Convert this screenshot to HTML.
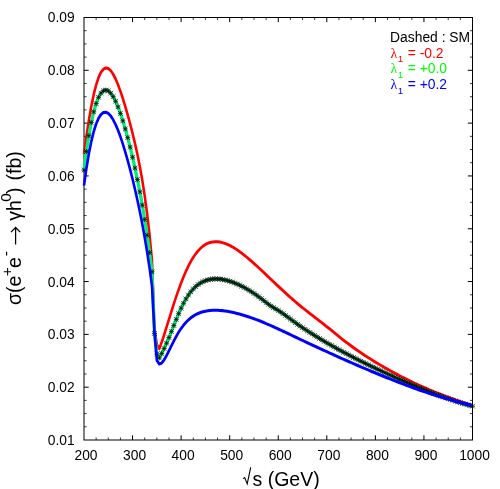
<!DOCTYPE html>
<html><head><meta charset="utf-8"><title>plot</title>
<style>
html,body{margin:0;padding:0;background:#fff;}
svg{display:block;font-family:"Liberation Sans",sans-serif;}
svg{will-change:transform;}
.ser{font-family:"Liberation Serif",serif;}
</style></head><body>
<svg width="500" height="489" viewBox="0 0 500 489">
<rect width="500" height="489" fill="#fff"/>
<g fill="none" stroke="#000" stroke-width="1">
<path d="M132.56 440.0v-4.7M132.56 17.5v4.7M181.12 440.0v-4.7M181.12 17.5v4.7M229.69 440.0v-4.7M229.69 17.5v4.7M278.25 440.0v-4.7M278.25 17.5v4.7M326.81 440.0v-4.7M326.81 17.5v4.7M375.38 440.0v-4.7M375.38 17.5v4.7M423.94 440.0v-4.7M423.94 17.5v4.7M84.0 387.19h4.7M472.5 387.19h-4.7M84.0 334.38h4.7M472.5 334.38h-4.7M84.0 281.56h4.7M472.5 281.56h-4.7M84.0 228.75h4.7M472.5 228.75h-4.7M84.0 175.94h4.7M472.5 175.94h-4.7M84.0 123.12h4.7M472.5 123.12h-4.7M84.0 70.31h4.7M472.5 70.31h-4.7"/><path d="M96.14 440.0v-2.6M96.14 17.5v2.6M108.28 440.0v-2.6M108.28 17.5v2.6M120.42 440.0v-2.6M120.42 17.5v2.6M144.70 440.0v-2.6M144.70 17.5v2.6M156.84 440.0v-2.6M156.84 17.5v2.6M168.98 440.0v-2.6M168.98 17.5v2.6M193.27 440.0v-2.6M193.27 17.5v2.6M205.41 440.0v-2.6M205.41 17.5v2.6M217.55 440.0v-2.6M217.55 17.5v2.6M241.83 440.0v-2.6M241.83 17.5v2.6M253.97 440.0v-2.6M253.97 17.5v2.6M266.11 440.0v-2.6M266.11 17.5v2.6M290.39 440.0v-2.6M290.39 17.5v2.6M302.53 440.0v-2.6M302.53 17.5v2.6M314.67 440.0v-2.6M314.67 17.5v2.6M338.95 440.0v-2.6M338.95 17.5v2.6M351.09 440.0v-2.6M351.09 17.5v2.6M363.23 440.0v-2.6M363.23 17.5v2.6M387.52 440.0v-2.6M387.52 17.5v2.6M399.66 440.0v-2.6M399.66 17.5v2.6M411.80 440.0v-2.6M411.80 17.5v2.6M436.08 440.0v-2.6M436.08 17.5v2.6M448.22 440.0v-2.6M448.22 17.5v2.6M460.36 440.0v-2.6M460.36 17.5v2.6M84.0 426.80h2.6M472.5 426.80h-2.6M84.0 413.59h2.6M472.5 413.59h-2.6M84.0 400.39h2.6M472.5 400.39h-2.6M84.0 373.98h2.6M472.5 373.98h-2.6M84.0 360.78h2.6M472.5 360.78h-2.6M84.0 347.58h2.6M472.5 347.58h-2.6M84.0 321.17h2.6M472.5 321.17h-2.6M84.0 307.97h2.6M472.5 307.97h-2.6M84.0 294.77h2.6M472.5 294.77h-2.6M84.0 268.36h2.6M472.5 268.36h-2.6M84.0 255.16h2.6M472.5 255.16h-2.6M84.0 241.95h2.6M472.5 241.95h-2.6M84.0 215.55h2.6M472.5 215.55h-2.6M84.0 202.34h2.6M472.5 202.34h-2.6M84.0 189.14h2.6M472.5 189.14h-2.6M84.0 162.73h2.6M472.5 162.73h-2.6M84.0 149.53h2.6M472.5 149.53h-2.6M84.0 136.33h2.6M472.5 136.33h-2.6M84.0 109.92h2.6M472.5 109.92h-2.6M84.0 96.72h2.6M472.5 96.72h-2.6M84.0 83.52h2.6M472.5 83.52h-2.6M84.0 57.11h2.6M472.5 57.11h-2.6M84.0 43.91h2.6M472.5 43.91h-2.6M84.0 30.70h2.6M472.5 30.70h-2.6" stroke-width="0.75"/>
<rect x="84.0" y="17.5" width="388.5" height="422.5"/>
</g>
<clipPath id="cp"><rect x="0" y="0" width="472" height="489"/></clipPath>
<g fill="none" stroke-linejoin="round" stroke-linecap="butt">
<g clip-path="url(#cp)"><path transform="scale(0.85 1)" d="M98.82 153.81 L101.68 136.14 L104.54 120.23 L107.39 106.32 L110.25 94.53 L113.11 84.94 L115.96 77.56 L118.82 72.34 L121.68 69.17 L124.53 67.94 L127.39 68.47 L130.25 70.60 L133.10 74.12 L135.96 78.86 L138.82 84.61 L141.67 91.22 L144.53 98.54 L147.39 106.46 L150.24 114.90 L153.10 123.84 L155.96 133.34 L158.81 143.49 L161.67 154.48 L164.53 166.59 L167.38 180.17 L170.24 195.70 L173.10 213.77 L175.95 235.06 L178.81 260.42 L181.67 328.00 L184.52 344.50 L187.38 348.67 L190.24 342.23 L193.09 334.86 L195.95 327.08 L198.81 319.20 L201.66 311.42 L204.52 303.84 L207.38 296.53 L210.23 289.54 L213.09 282.95 L215.94 276.82 L218.80 271.18 L221.66 266.07 L224.51 261.48 L227.37 257.42 L230.23 253.86 L233.08 250.81 L235.94 248.25 L238.80 246.14 L241.65 244.49 L244.51 243.26 L247.37 242.40 L250.22 241.89 L253.08 241.68 L255.94 241.75 L258.79 242.08 L261.65 242.63 L264.51 243.39 L267.36 244.34 L270.22 245.47 L273.08 246.76 L275.93 248.19 L278.79 249.76 L281.65 251.44 L284.50 253.25 L287.36 255.15 L290.22 257.13 L293.07 259.18 L295.93 261.29 L298.79 263.44 L301.64 265.64 L304.50 267.86 L307.36 270.13 L310.21 272.43 L313.07 274.75 L315.93 277.07 L318.78 279.38 L321.64 281.69 L324.50 283.99 L327.35 286.27 L330.21 288.53 L333.07 290.77 L335.92 292.99 L338.78 295.19 L341.64 297.35 L344.49 299.49 L347.35 301.60 L350.21 303.67 L353.06 305.72 L355.92 307.69 L358.78 309.63 L361.63 311.56 L364.49 313.46 L367.35 315.35 L370.20 317.23 L373.06 319.10 L375.92 320.97 L378.77 322.85 L381.63 324.75 L384.49 326.66 L387.34 328.59 L390.20 330.56 L393.06 332.55 L395.91 334.55 L398.77 336.53 L401.62 338.48 L404.48 340.39 L407.34 342.26 L410.19 344.09 L413.05 345.88 L415.91 347.64 L418.76 349.36 L421.62 351.05 L424.48 352.71 L427.33 354.34 L430.19 355.94 L433.05 357.51 L435.90 359.05 L438.76 360.56 L441.62 362.06 L444.47 363.52 L447.33 364.97 L450.19 366.39 L453.04 367.78 L455.90 369.16 L458.76 370.52 L461.61 371.86 L464.47 373.17 L467.33 374.47 L470.18 375.75 L473.04 377.01 L475.90 378.25 L478.75 379.47 L481.61 380.68 L484.47 381.86 L487.32 383.02 L490.18 384.17 L493.04 385.30 L495.89 386.40 L498.75 387.47 L501.61 388.52 L504.46 389.56 L507.32 390.58 L510.18 391.58 L513.03 392.56 L515.89 393.53 L518.75 394.48 L521.60 395.41 L524.46 396.33 L527.32 397.23 L530.17 398.12 L533.03 399.01 L535.89 399.89 L538.74 400.75 L541.60 401.59 L544.46 402.42 L547.31 403.24 L550.17 404.03 L553.03 404.82 L555.88 405.59" stroke="#ff0000" stroke-width="3.0"/></g>
<g clip-path="url(#cp)"><path d="M84.00 170.15 L86.43 151.49 L88.86 135.67 L91.28 122.51 L93.71 111.84 L96.14 103.50 L98.57 97.31 L101.00 93.11 L103.42 90.74 L105.85 90.05 L108.28 90.90 L110.71 93.14 L113.14 96.63 L115.57 101.24 L117.99 106.87 L120.42 113.41 L122.85 120.77 L125.28 128.88 L127.71 137.67 L130.13 147.13 L132.56 157.25 L134.99 168.04 L137.42 179.55 L139.85 191.88 L142.28 205.16 L144.70 219.54 L147.13 235.25 L149.56 252.56 L151.99 271.78 L154.42 333.50 L156.84 354.00 L159.27 357.96 L161.70 353.46 L164.13 348.52 L166.56 343.19 L168.98 337.53 L171.41 331.59 L173.84 325.47 L176.27 319.41 L178.70 313.61 L181.12 308.22 L183.55 303.29 L185.98 298.89 L188.41 295.04 L190.84 291.74 L193.27 288.94 L195.69 286.57 L198.12 284.60 L200.55 282.98 L202.98 281.68 L205.41 280.65 L207.83 279.89 L210.26 279.35 L212.69 279.02 L215.12 278.88 L217.55 278.92 L219.97 279.11 L222.40 279.45 L224.83 279.92 L227.26 280.52 L229.69 281.22 L232.12 282.04 L234.54 282.95 L236.97 283.96 L239.40 285.06 L241.83 286.25 L244.26 287.53 L246.68 288.89 L249.11 290.34 L251.54 291.86 L253.97 293.45 L256.40 295.11 L258.82 296.85 L261.25 298.67 L263.68 300.57 L266.11 302.49 L268.54 304.32 L270.97 306.01 L273.39 307.54 L275.82 308.99 L278.25 310.46 L280.68 312.03 L283.11 313.70 L285.53 315.45 L287.96 317.24 L290.39 319.05 L292.82 320.83 L295.25 322.60 L297.67 324.33 L300.10 326.04 L302.53 327.67 L304.96 329.29 L307.39 330.87 L309.82 332.44 L312.24 333.98 L314.67 335.51 L317.10 337.01 L319.53 338.49 L321.96 339.95 L324.38 341.40 L326.81 342.82 L329.24 344.23 L331.67 345.62 L334.10 346.99 L336.52 348.35 L338.95 349.69 L341.38 351.02 L343.81 352.33 L346.24 353.63 L348.67 354.91 L351.09 356.18 L353.52 357.44 L355.95 358.69 L358.38 359.92 L360.81 361.14 L363.23 362.35 L365.66 363.54 L368.09 364.73 L370.52 365.91 L372.95 367.07 L375.38 368.23 L377.80 369.38 L380.23 370.52 L382.66 371.65 L385.09 372.77 L387.52 373.89 L389.94 374.99 L392.37 376.09 L394.80 377.18 L397.23 378.26 L399.66 379.34 L402.08 380.41 L404.51 381.47 L406.94 382.53 L409.37 383.58 L411.80 384.62 L414.22 385.66 L416.65 386.70 L419.08 387.72 L421.51 388.72 L423.94 389.69 L426.37 390.65 L428.79 391.60 L431.22 392.54 L433.65 393.47 L436.08 394.38 L438.51 395.28 L440.93 396.16 L443.36 397.03 L445.79 397.88 L448.22 398.70 L450.65 399.53 L453.07 400.36 L455.50 401.18 L457.93 401.97 L460.36 402.73 L462.79 403.48 L465.22 404.19 L467.64 404.89 L470.07 405.55 L472.50 406.19" stroke="#00ee76" stroke-width="3.3"/></g>
<path d="M81.50 170.15H86.50M84.00 167.65V172.65M81.70 167.85L86.30 172.45M81.70 172.45L86.30 167.85M83.93 151.49H88.93M86.43 148.99V153.99M84.13 149.19L88.73 153.79M84.13 153.79L88.73 149.19M86.36 135.67H91.36M88.86 133.17V138.17M86.56 133.37L91.16 137.97M86.56 137.97L91.16 133.37M88.78 122.51H93.78M91.28 120.01V125.01M88.98 120.21L93.58 124.81M88.98 124.81L93.58 120.21M91.21 111.84H96.21M93.71 109.34V114.34M91.41 109.54L96.01 114.14M91.41 114.14L96.01 109.54M93.64 103.50H98.64M96.14 101.00V106.00M93.84 101.20L98.44 105.80M93.84 105.80L98.44 101.20M96.07 97.31H101.07M98.57 94.81V99.81M96.27 95.01L100.87 99.61M96.27 99.61L100.87 95.01M98.50 93.11H103.50M101.00 90.61V95.61M98.70 90.81L103.30 95.41M98.70 95.41L103.30 90.81M100.92 90.74H105.92M103.42 88.24V93.24M101.12 88.44L105.72 93.04M101.12 93.04L105.72 88.44M103.35 90.05H108.35M105.85 87.55V92.55M103.55 87.75L108.15 92.35M103.55 92.35L108.15 87.75M105.78 90.90H110.78M108.28 88.40V93.40M105.98 88.60L110.58 93.20M105.98 93.20L110.58 88.60M108.21 93.14H113.21M110.71 90.64V95.64M108.41 90.84L113.01 95.44M108.41 95.44L113.01 90.84M110.64 96.63H115.64M113.14 94.13V99.13M110.84 94.33L115.44 98.93M110.84 98.93L115.44 94.33M113.07 101.24H118.07M115.57 98.74V103.74M113.27 98.94L117.87 103.54M113.27 103.54L117.87 98.94M115.49 106.87H120.49M117.99 104.37V109.37M115.69 104.57L120.29 109.17M115.69 109.17L120.29 104.57M117.92 113.41H122.92M120.42 110.91V115.91M118.12 111.11L122.72 115.71M118.12 115.71L122.72 111.11M120.35 120.77H125.35M122.85 118.27V123.27M120.55 118.47L125.15 123.07M120.55 123.07L125.15 118.47M122.78 128.88H127.78M125.28 126.38V131.38M122.98 126.58L127.58 131.18M122.98 131.18L127.58 126.58M125.21 137.67H130.21M127.71 135.17V140.17M125.41 135.37L130.01 139.97M125.41 139.97L130.01 135.37M127.63 147.13H132.63M130.13 144.63V149.63M127.83 144.83L132.43 149.43M127.83 149.43L132.43 144.83M130.06 157.25H135.06M132.56 154.75V159.75M130.26 154.95L134.86 159.55M130.26 159.55L134.86 154.95M132.49 168.04H137.49M134.99 165.54V170.54M132.69 165.74L137.29 170.34M132.69 170.34L137.29 165.74M134.92 179.55H139.92M137.42 177.05V182.05M135.12 177.25L139.72 181.85M135.12 181.85L139.72 177.25M137.35 191.88H142.35M139.85 189.38V194.38M137.55 189.58L142.15 194.18M137.55 194.18L142.15 189.58M139.78 205.16H144.78M142.28 202.66V207.66M139.97 202.86L144.58 207.46M139.97 207.46L144.58 202.86M142.20 219.54H147.20M144.70 217.04V222.04M142.40 217.24L147.00 221.84M142.40 221.84L147.00 217.24M144.63 235.25H149.63M147.13 232.75V237.75M144.83 232.95L149.43 237.55M144.83 237.55L149.43 232.95M147.06 252.56H152.06M149.56 250.06V255.06M147.26 250.26L151.86 254.86M147.26 254.86L151.86 250.26M149.49 271.78H154.49M151.99 269.28V274.28M149.69 269.48L154.29 274.08M149.69 274.08L154.29 269.48M151.92 333.50H156.92M154.42 331.00V336.00M152.12 331.20L156.72 335.80M152.12 335.80L156.72 331.20M154.34 354.00H159.34M156.84 351.50V356.50M154.54 351.70L159.14 356.30M154.54 356.30L159.14 351.70M156.77 357.96H161.77M159.27 355.46V360.46M156.97 355.66L161.57 360.26M156.97 360.26L161.57 355.66M159.20 353.46H164.20M161.70 350.96V355.96M159.40 351.16L164.00 355.76M159.40 355.76L164.00 351.16M161.63 348.52H166.63M164.13 346.02V351.02M161.83 346.22L166.43 350.82M161.83 350.82L166.43 346.22M164.06 343.19H169.06M166.56 340.69V345.69M164.26 340.89L168.86 345.49M164.26 345.49L168.86 340.89M166.48 337.53H171.48M168.98 335.03V340.03M166.68 335.23L171.28 339.83M166.68 339.83L171.28 335.23M168.91 331.59H173.91M171.41 329.09V334.09M169.11 329.29L173.71 333.89M169.11 333.89L173.71 329.29M171.34 325.47H176.34M173.84 322.97V327.97M171.54 323.17L176.14 327.77M171.54 327.77L176.14 323.17M173.77 319.41H178.77M176.27 316.91V321.91M173.97 317.11L178.57 321.71M173.97 321.71L178.57 317.11M176.20 313.61H181.20M178.70 311.11V316.11M176.40 311.31L181.00 315.91M176.40 315.91L181.00 311.31M178.62 308.22H183.62M181.12 305.72V310.72M178.82 305.92L183.43 310.52M178.82 310.52L183.43 305.92M181.05 303.29H186.05M183.55 300.79V305.79M181.25 300.99L185.85 305.59M181.25 305.59L185.85 300.99M183.48 298.89H188.48M185.98 296.39V301.39M183.68 296.59L188.28 301.19M183.68 301.19L188.28 296.59M185.91 295.04H190.91M188.41 292.54V297.54M186.11 292.74L190.71 297.34M186.11 297.34L190.71 292.74M188.34 291.74H193.34M190.84 289.24V294.24M188.54 289.44L193.14 294.04M188.54 294.04L193.14 289.44M190.77 288.94H195.77M193.27 286.44V291.44M190.97 286.64L195.57 291.24M190.97 291.24L195.57 286.64M193.19 286.57H198.19M195.69 284.07V289.07M193.39 284.27L197.99 288.87M193.39 288.87L197.99 284.27M195.62 284.60H200.62M198.12 282.10V287.10M195.82 282.30L200.42 286.90M195.82 286.90L200.42 282.30M198.05 282.98H203.05M200.55 280.48V285.48M198.25 280.68L202.85 285.28M198.25 285.28L202.85 280.68M200.48 281.68H205.48M202.98 279.18V284.18M200.68 279.38L205.28 283.98M200.68 283.98L205.28 279.38M202.91 280.65H207.91M205.41 278.15V283.15M203.11 278.35L207.71 282.95M203.11 282.95L207.71 278.35M205.33 279.89H210.33M207.83 277.39V282.39M205.53 277.59L210.13 282.19M205.53 282.19L210.13 277.59M207.76 279.35H212.76M210.26 276.85V281.85M207.96 277.05L212.56 281.65M207.96 281.65L212.56 277.05M210.19 279.02H215.19M212.69 276.52V281.52M210.39 276.72L214.99 281.32M210.39 281.32L214.99 276.72M212.62 278.88H217.62M215.12 276.38V281.38M212.82 276.58L217.42 281.18M212.82 281.18L217.42 276.58M215.05 278.92H220.05M217.55 276.42V281.42M215.25 276.62L219.85 281.22M215.25 281.22L219.85 276.62M217.47 279.11H222.47M219.97 276.61V281.61M217.67 276.81L222.28 281.41M217.67 281.41L222.28 276.81M219.90 279.45H224.90M222.40 276.95V281.95M220.10 277.15L224.70 281.75M220.10 281.75L224.70 277.15M222.33 279.92H227.33M224.83 277.42V282.42M222.53 277.62L227.13 282.22M222.53 282.22L227.13 277.62M224.76 280.52H229.76M227.26 278.02V283.02M224.96 278.22L229.56 282.82M224.96 282.82L229.56 278.22M227.19 281.22H232.19M229.69 278.72V283.72M227.39 278.92L231.99 283.52M227.39 283.52L231.99 278.92M229.62 282.04H234.62M232.12 279.54V284.54M229.82 279.74L234.42 284.34M229.82 284.34L234.42 279.74M232.04 282.95H237.04M234.54 280.45V285.45M232.24 280.65L236.84 285.25M232.24 285.25L236.84 280.65M234.47 283.96H239.47M236.97 281.46V286.46M234.67 281.66L239.27 286.26M234.67 286.26L239.27 281.66M236.90 285.06H241.90M239.40 282.56V287.56M237.10 282.76L241.70 287.36M237.10 287.36L241.70 282.76M239.33 286.25H244.33M241.83 283.75V288.75M239.53 283.95L244.13 288.55M239.53 288.55L244.13 283.95M241.76 287.53H246.76M244.26 285.03V290.03M241.96 285.23L246.56 289.83M241.96 289.83L246.56 285.23M244.18 288.89H249.18M246.68 286.39V291.39M244.38 286.59L248.98 291.19M244.38 291.19L248.98 286.59M246.61 290.34H251.61M249.11 287.84V292.84M246.81 288.04L251.41 292.64M246.81 292.64L251.41 288.04M249.04 291.86H254.04M251.54 289.36V294.36M249.24 289.56L253.84 294.16M249.24 294.16L253.84 289.56M251.47 293.45H256.47M253.97 290.95V295.95M251.67 291.15L256.27 295.75M251.67 295.75L256.27 291.15M253.90 295.11H258.90M256.40 292.61V297.61M254.10 292.81L258.70 297.41M254.10 297.41L258.70 292.81M256.32 296.85H261.32M258.82 294.35V299.35M256.52 294.55L261.12 299.15M256.52 299.15L261.12 294.55M258.75 298.67H263.75M261.25 296.17V301.17M258.95 296.37L263.55 300.97M258.95 300.97L263.55 296.37M261.18 300.57H266.18M263.68 298.07V303.07M261.38 298.27L265.98 302.87M261.38 302.87L265.98 298.27M263.61 302.49H268.61M266.11 299.99V304.99M263.81 300.19L268.41 304.79M263.81 304.79L268.41 300.19M266.04 304.32H271.04M268.54 301.82V306.82M266.24 302.02L270.84 306.62M266.24 306.62L270.84 302.02M268.47 306.01H273.47M270.97 303.51V308.51M268.67 303.71L273.27 308.31M268.67 308.31L273.27 303.71M270.89 307.54H275.89M273.39 305.04V310.04M271.09 305.24L275.69 309.84M271.09 309.84L275.69 305.24M273.32 308.99H278.32M275.82 306.49V311.49M273.52 306.69L278.12 311.29M273.52 311.29L278.12 306.69M275.75 310.46H280.75M278.25 307.96V312.96M275.95 308.16L280.55 312.76M275.95 312.76L280.55 308.16M278.18 312.03H283.18M280.68 309.53V314.53M278.38 309.73L282.98 314.33M278.38 314.33L282.98 309.73M280.61 313.70H285.61M283.11 311.20V316.20M280.81 311.40L285.41 316.00M280.81 316.00L285.41 311.40M283.03 315.45H288.03M285.53 312.95V317.95M283.23 313.15L287.83 317.75M283.23 317.75L287.83 313.15M285.46 317.24H290.46M287.96 314.74V319.74M285.66 314.94L290.26 319.54M285.66 319.54L290.26 314.94M287.89 319.05H292.89M290.39 316.55V321.55M288.09 316.75L292.69 321.35M288.09 321.35L292.69 316.75M290.32 320.83H295.32M292.82 318.33V323.33M290.52 318.53L295.12 323.13M290.52 323.13L295.12 318.53M292.75 322.60H297.75M295.25 320.10V325.10M292.95 320.30L297.55 324.90M292.95 324.90L297.55 320.30M295.17 324.33H300.17M297.67 321.83V326.83M295.37 322.03L299.97 326.63M295.37 326.63L299.97 322.03M297.60 326.04H302.60M300.10 323.54V328.54M297.80 323.74L302.40 328.34M297.80 328.34L302.40 323.74M300.03 327.67H305.03M302.53 325.17V330.17M300.23 325.37L304.83 329.97M300.23 329.97L304.83 325.37M302.46 329.29H307.46M304.96 326.79V331.79M302.66 326.99L307.26 331.59M302.66 331.59L307.26 326.99M304.89 330.87H309.89M307.39 328.37V333.37M305.09 328.57L309.69 333.17M305.09 333.17L309.69 328.57M307.32 332.44H312.32M309.82 329.94V334.94M307.52 330.14L312.12 334.74M307.52 334.74L312.12 330.14M309.74 333.98H314.74M312.24 331.48V336.48M309.94 331.68L314.54 336.28M309.94 336.28L314.54 331.68M312.17 335.51H317.17M314.67 333.01V338.01M312.37 333.21L316.97 337.81M312.37 337.81L316.97 333.21M314.60 337.01H319.60M317.10 334.51V339.51M314.80 334.71L319.40 339.31M314.80 339.31L319.40 334.71M317.03 338.49H322.03M319.53 335.99V340.99M317.23 336.19L321.83 340.79M317.23 340.79L321.83 336.19M319.46 339.95H324.46M321.96 337.45V342.45M319.66 337.65L324.26 342.25M319.66 342.25L324.26 337.65M321.88 341.40H326.88M324.38 338.90V343.90M322.08 339.10L326.68 343.70M322.08 343.70L326.68 339.10M324.31 342.82H329.31M326.81 340.32V345.32M324.51 340.52L329.11 345.12M324.51 345.12L329.11 340.52M326.74 344.23H331.74M329.24 341.73V346.73M326.94 341.93L331.54 346.53M326.94 346.53L331.54 341.93M329.17 345.62H334.17M331.67 343.12V348.12M329.37 343.32L333.97 347.92M329.37 347.92L333.97 343.32M331.60 346.99H336.60M334.10 344.49V349.49M331.80 344.69L336.40 349.29M331.80 349.29L336.40 344.69M334.02 348.35H339.02M336.52 345.85V350.85M334.22 346.05L338.82 350.65M334.22 350.65L338.82 346.05M336.45 349.69H341.45M338.95 347.19V352.19M336.65 347.39L341.25 351.99M336.65 351.99L341.25 347.39M338.88 351.02H343.88M341.38 348.52V353.52M339.08 348.72L343.68 353.32M339.08 353.32L343.68 348.72M341.31 352.33H346.31M343.81 349.83V354.83M341.51 350.03L346.11 354.63M341.51 354.63L346.11 350.03M343.74 353.63H348.74M346.24 351.13V356.13M343.94 351.33L348.54 355.93M343.94 355.93L348.54 351.33M346.17 354.91H351.17M348.67 352.41V357.41M346.37 352.61L350.97 357.21M346.37 357.21L350.97 352.61M348.59 356.18H353.59M351.09 353.68V358.68M348.79 353.88L353.39 358.48M348.79 358.48L353.39 353.88M351.02 357.44H356.02M353.52 354.94V359.94M351.22 355.14L355.82 359.74M351.22 359.74L355.82 355.14M353.45 358.69H358.45M355.95 356.19V361.19M353.65 356.39L358.25 360.99M353.65 360.99L358.25 356.39M355.88 359.92H360.88M358.38 357.42V362.42M356.08 357.62L360.68 362.22M356.08 362.22L360.68 357.62M358.31 361.14H363.31M360.81 358.64V363.64M358.51 358.84L363.11 363.44M358.51 363.44L363.11 358.84M360.73 362.35H365.73M363.23 359.85V364.85M360.93 360.05L365.53 364.65M360.93 364.65L365.53 360.05M363.16 363.54H368.16M365.66 361.04V366.04M363.36 361.24L367.96 365.84M363.36 365.84L367.96 361.24M365.59 364.73H370.59M368.09 362.23V367.23M365.79 362.43L370.39 367.03M365.79 367.03L370.39 362.43M368.02 365.91H373.02M370.52 363.41V368.41M368.22 363.61L372.82 368.21M368.22 368.21L372.82 363.61M370.45 367.07H375.45M372.95 364.57V369.57M370.65 364.77L375.25 369.37M370.65 369.37L375.25 364.77M372.88 368.23H377.88M375.38 365.73V370.73M373.07 365.93L377.68 370.53M373.07 370.53L377.68 365.93M375.30 369.38H380.30M377.80 366.88V371.88M375.50 367.08L380.10 371.68M375.50 371.68L380.10 367.08M377.73 370.52H382.73M380.23 368.02V373.02M377.93 368.22L382.53 372.82M377.93 372.82L382.53 368.22M380.16 371.65H385.16M382.66 369.15V374.15M380.36 369.35L384.96 373.95M380.36 373.95L384.96 369.35M382.59 372.77H387.59M385.09 370.27V375.27M382.79 370.47L387.39 375.07M382.79 375.07L387.39 370.47M385.02 373.89H390.02M387.52 371.39V376.39M385.22 371.59L389.82 376.19M385.22 376.19L389.82 371.59M387.44 374.99H392.44M389.94 372.49V377.49M387.64 372.69L392.24 377.29M387.64 377.29L392.24 372.69M389.87 376.09H394.87M392.37 373.59V378.59M390.07 373.79L394.67 378.39M390.07 378.39L394.67 373.79M392.30 377.18H397.30M394.80 374.68V379.68M392.50 374.88L397.10 379.48M392.50 379.48L397.10 374.88M394.73 378.26H399.73M397.23 375.76V380.76M394.93 375.96L399.53 380.56M394.93 380.56L399.53 375.96M397.16 379.34H402.16M399.66 376.84V381.84M397.36 377.04L401.96 381.64M397.36 381.64L401.96 377.04M399.58 380.41H404.58M402.08 377.91V382.91M399.78 378.11L404.38 382.71M399.78 382.71L404.38 378.11M402.01 381.47H407.01M404.51 378.97V383.97M402.21 379.17L406.81 383.77M402.21 383.77L406.81 379.17M404.44 382.53H409.44M406.94 380.03V385.03M404.64 380.23L409.24 384.83M404.64 384.83L409.24 380.23M406.87 383.58H411.87M409.37 381.08V386.08M407.07 381.28L411.67 385.88M407.07 385.88L411.67 381.28M409.30 384.62H414.30M411.80 382.12V387.12M409.50 382.32L414.10 386.92M409.50 386.92L414.10 382.32M411.72 385.66H416.72M414.22 383.16V388.16M411.92 383.36L416.52 387.96M411.92 387.96L416.52 383.36M414.15 386.70H419.15M416.65 384.20V389.20M414.35 384.40L418.95 389.00M414.35 389.00L418.95 384.40M416.58 387.72H421.58M419.08 385.22V390.22M416.78 385.42L421.38 390.02M416.78 390.02L421.38 385.42M419.01 388.72H424.01M421.51 386.22V391.22M419.21 386.42L423.81 391.02M419.21 391.02L423.81 386.42M421.44 389.69H426.44M423.94 387.19V392.19M421.64 387.39L426.24 391.99M421.64 391.99L426.24 387.39M423.87 390.65H428.87M426.37 388.15V393.15M424.07 388.35L428.67 392.95M424.07 392.95L428.67 388.35M426.29 391.60H431.29M428.79 389.10V394.10M426.49 389.30L431.09 393.90M426.49 393.90L431.09 389.30M428.72 392.54H433.72M431.22 390.04V395.04M428.92 390.24L433.52 394.84M428.92 394.84L433.52 390.24M431.15 393.47H436.15M433.65 390.97V395.97M431.35 391.17L435.95 395.77M431.35 395.77L435.95 391.17M433.58 394.38H438.58M436.08 391.88V396.88M433.78 392.08L438.38 396.68M433.78 396.68L438.38 392.08M436.01 395.28H441.01M438.51 392.78V397.78M436.21 392.98L440.81 397.58M436.21 397.58L440.81 392.98M438.43 396.16H443.43M440.93 393.66V398.66M438.63 393.86L443.23 398.46M438.63 398.46L443.23 393.86M440.86 397.03H445.86M443.36 394.53V399.53M441.06 394.73L445.66 399.33M441.06 399.33L445.66 394.73M443.29 397.88H448.29M445.79 395.38V400.38M443.49 395.58L448.09 400.18M443.49 400.18L448.09 395.58M445.72 398.70H450.72M448.22 396.20V401.20M445.92 396.40L450.52 401.00M445.92 401.00L450.52 396.40M448.15 399.53H453.15M450.65 397.03V402.03M448.35 397.23L452.95 401.83M448.35 401.83L452.95 397.23M450.57 400.36H455.57M453.07 397.86V402.86M450.77 398.06L455.38 402.66M450.77 402.66L455.38 398.06M453.00 401.18H458.00M455.50 398.68V403.68M453.20 398.88L457.80 403.48M453.20 403.48L457.80 398.88M455.43 401.97H460.43M457.93 399.47V404.47M455.63 399.67L460.23 404.27M455.63 404.27L460.23 399.67M457.86 402.73H462.86M460.36 400.23V405.23M458.06 400.43L462.66 405.03M458.06 405.03L462.66 400.43M460.29 403.48H465.29M462.79 400.98V405.98M460.49 401.18L465.09 405.78M460.49 405.78L465.09 401.18M462.72 404.19H467.72M465.22 401.69V406.69M462.92 401.89L467.52 406.49M462.92 406.49L467.52 401.89M465.14 404.89H470.14M467.64 402.39V407.39M465.34 402.59L469.94 407.19M465.34 407.19L469.94 402.59M467.57 405.55H472.57M470.07 403.05V408.05M467.77 403.25L472.37 407.85M467.77 407.85L472.37 403.25M470.00 406.19H475.00M472.50 403.69V408.69M470.20 403.89L474.80 408.49M470.20 408.49L474.80 403.89" stroke="#000" stroke-width="0.72"/>
<g clip-path="url(#cp)"><path transform="scale(0.85 1)" d="M98.82 185.46 L101.68 168.35 L104.54 153.73 L107.39 141.52 L110.25 131.62 L113.11 123.90 L115.96 118.25 L118.82 114.52 L121.68 112.58 L124.53 112.27 L127.39 113.44 L130.25 115.96 L133.10 119.67 L135.96 124.45 L138.82 130.16 L141.67 136.71 L144.53 143.98 L147.39 151.91 L150.24 160.43 L153.10 169.51 L155.96 179.13 L158.81 189.33 L161.67 200.15 L164.53 211.68 L167.38 224.03 L170.24 237.38 L173.10 251.93 L175.95 267.92 L178.81 285.65 L181.67 331.00 L184.52 360.40 L187.38 363.99 L190.24 363.08 L193.09 359.92 L195.95 355.59 L198.81 350.74 L201.66 345.77 L204.52 340.93 L207.38 336.38 L210.23 332.19 L213.09 328.44 L215.94 325.14 L218.80 322.30 L221.66 319.89 L224.51 317.85 L227.37 316.14 L230.23 314.71 L233.08 313.52 L235.94 312.56 L238.80 311.80 L241.65 311.20 L244.51 310.77 L247.37 310.47 L250.22 310.30 L253.08 310.24 L255.94 310.28 L258.79 310.42 L261.65 310.64 L264.51 310.94 L267.36 311.31 L270.22 311.74 L273.08 312.24 L275.93 312.79 L278.79 313.39 L281.65 314.04 L284.50 314.73 L287.36 315.47 L290.22 316.24 L293.07 317.04 L295.93 317.88 L298.79 318.75 L301.64 319.65 L304.50 320.57 L307.36 321.54 L310.21 322.55 L313.07 323.57 L315.93 324.62 L318.78 325.68 L321.64 326.77 L324.50 327.86 L327.35 328.97 L330.21 330.10 L333.07 331.23 L335.92 332.37 L338.78 333.51 L341.64 334.67 L344.49 335.83 L347.35 336.99 L350.21 338.16 L353.06 339.33 L355.92 340.45 L358.78 341.58 L361.63 342.71 L364.49 343.84 L367.35 344.97 L370.20 346.10 L373.06 347.23 L375.92 348.35 L378.77 349.47 L381.63 350.59 L384.49 351.70 L387.34 352.82 L390.20 353.92 L393.06 355.03 L395.91 356.13 L398.77 357.22 L401.62 358.31 L404.48 359.40 L407.34 360.48 L410.19 361.55 L413.05 362.62 L415.91 363.68 L418.76 364.74 L421.62 365.79 L424.48 366.84 L427.33 367.88 L430.19 368.91 L433.05 369.94 L435.90 370.96 L438.76 371.98 L441.62 372.99 L444.47 373.99 L447.33 374.99 L450.19 375.98 L453.04 376.96 L455.90 377.94 L458.76 378.91 L461.61 379.88 L464.47 380.84 L467.33 381.79 L470.18 382.73 L473.04 383.66 L475.90 384.59 L478.75 385.50 L481.61 386.41 L484.47 387.30 L487.32 388.18 L490.18 389.06 L493.04 389.92 L495.89 390.76 L498.75 391.58 L501.61 392.39 L504.46 393.18 L507.32 393.97 L510.18 394.74 L513.03 395.50 L515.89 396.25 L518.75 396.98 L521.60 397.70 L524.46 398.41 L527.32 399.10 L530.17 399.79 L533.03 400.48 L535.89 401.16 L538.74 401.83 L541.60 402.48 L544.46 403.12 L547.31 403.74 L550.17 404.35 L553.03 404.94 L555.88 405.53" stroke="#0000ff" stroke-width="3.05"/></g>
</g>
<g font-size="13.8" fill="#000"><text x="86.0" y="459.8" text-anchor="middle">200</text><text x="134.6" y="459.8" text-anchor="middle">300</text><text x="183.1" y="459.8" text-anchor="middle">400</text><text x="231.7" y="459.8" text-anchor="middle">500</text><text x="280.2" y="459.8" text-anchor="middle">600</text><text x="328.8" y="459.8" text-anchor="middle">700</text><text x="377.4" y="459.8" text-anchor="middle">800</text><text x="425.9" y="459.8" text-anchor="middle">900</text><text x="474.5" y="459.8" text-anchor="middle">1000</text><text x="74.6" y="444.9" text-anchor="end">0.01</text><text x="74.6" y="392.1" text-anchor="end">0.02</text><text x="74.6" y="339.3" text-anchor="end">0.03</text><text x="74.6" y="286.5" text-anchor="end">0.04</text><text x="74.6" y="233.7" text-anchor="end">0.05</text><text x="74.6" y="180.8" text-anchor="end">0.06</text><text x="74.6" y="128.0" text-anchor="end">0.07</text><text x="74.6" y="75.2" text-anchor="end">0.08</text><text x="74.6" y="22.4" text-anchor="end">0.09</text></g>
<path d="M243.1 478.6L244.7 477.6L247.2 483.9L250.7 467.4" fill="none" stroke="#000" stroke-width="1.1" stroke-linejoin="miter"/>
<text x="319.7" y="485.5" font-size="19.5" text-anchor="end">s (GeV)</text>
<g transform="translate(21 305) rotate(-90)" font-size="19.5">
<text x="0" y="0">σ(e</text>
<text x="28.7" y="-9" font-size="15.5">+</text>
<text x="37" y="0">e</text>
<text x="48.8" y="-10" font-size="15.5">-</text>
<path d="M60.5 -5.4H77M72.9 -10L77.5 -5.4L72.9 -0.8" fill="none" stroke="#000" stroke-width="1.25"/>
<text x="84.2" y="0">γh</text>
<text x="103.3" y="-10" font-size="15.5">0</text>
<text x="111.1" y="0">)</text>
<text x="124.5" y="0">(fb)</text>
</g>
<g font-size="13.9">
<text x="390.1" y="42.4" font-size="13.85">Dashed : SM</text>
<text x="390.5" y="57.6" fill="#ff0000"><tspan class="ser">λ</tspan><tspan dy="4.6" dx="0.5" font-size="9.8">1</tspan><tspan dy="-4.6" dx="0.6"> = -0.2</tspan></text>
<text x="390.5" y="73.4" fill="#00ff00"><tspan class="ser">λ</tspan><tspan dy="4.6" dx="0.5" font-size="9.8">1</tspan><tspan dy="-4.6" dx="0.6"> = +0.0</tspan></text>
<text x="390.5" y="89.1" fill="#0000ff"><tspan class="ser">λ</tspan><tspan dy="4.6" dx="0.5" font-size="9.8">1</tspan><tspan dy="-4.6" dx="0.6"> = +0.2</tspan></text>
</g>
</svg>
</body></html>
